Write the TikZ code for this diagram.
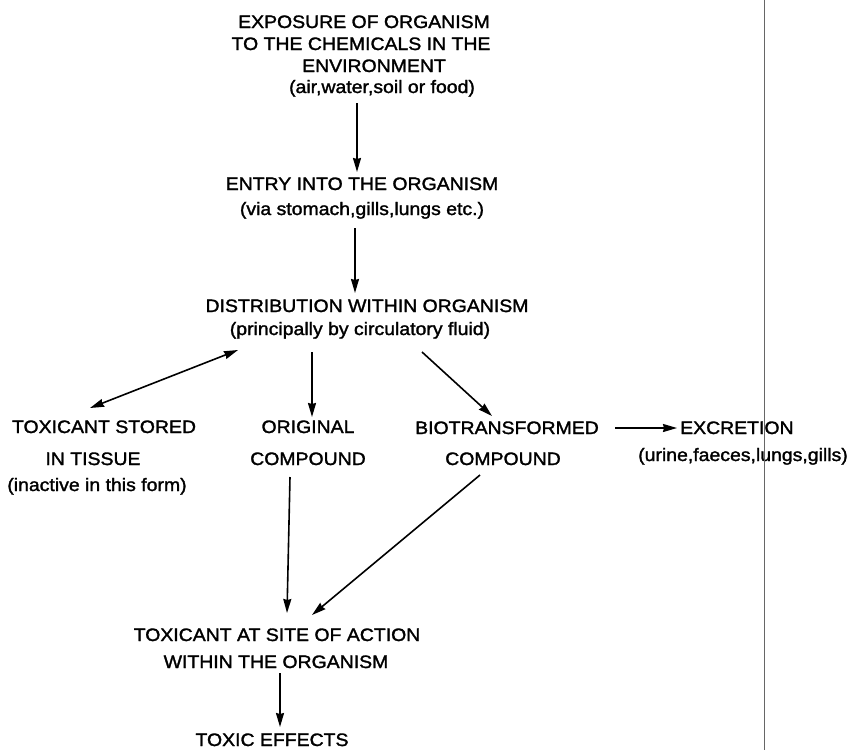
\documentclass[tikz,border=0pt]{standalone}
\usepackage{fontspec}
\setmainfont{Liberation Sans}[FakeStretch=1.08,FakeBold=1.6]
\usetikzlibrary{arrows.meta}
\tikzset{
  txt/.style={anchor=base, inner sep=0pt, font=\fontsize{18}{20}\selectfont},
  arr/.style={line width=1.6pt, -{Stealth[length=14pt,width=8pt,inset=1pt]}},
  darr/.style={line width=1.6pt, {Stealth[length=14pt,width=8pt,inset=1pt]}-{Stealth[length=14pt,width=8pt,inset=1pt]}},
  scanline/.style={draw=black!60, line width=0.8pt}
}
\begin{document}
\begin{tikzpicture}[x=1pt,y=-1pt]
\useasboundingbox (0,0) rectangle (851,750);
% top block
\node[txt] (e1) at (364,28) {EXPOSURE OF ORGANISM};
\node[txt] (e2) at (361,50) {TO THE CHEMICALS IN THE};
\node[txt] (e3) at (374,72) {ENVIRONMENT};
\node[txt] (e4) at (382,93) {(air,water,soil or food)};
% entry
\node[txt] (n1) at (362,190) {ENTRY INTO THE ORGANISM};
\node[txt] (n2) at (362,215) {(via stomach,gills,lungs etc.)};
% distribution
\node[txt] (d1) at (367,312) {DISTRIBUTION WITHIN ORGANISM};
\node[txt] (d2) at (360,335) {(principally by circulatory fluid)};
% stored
\node[txt] (s1) at (104,433) {TOXICANT STORED};
\node[txt] (s2) at (93,465) {IN TISSUE};
\node[txt] (s3) at (97,491) {(inactive in this form)};
% original
\node[txt] (o1) at (308,433) {ORIGINAL};
\node[txt] (o2) at (308,465) {COMPOUND};
% biotransformed
\node[txt] (b1) at (507,434) {BIOTRANSFORMED};
\node[txt] (b2) at (503,465) {COMPOUND};
% excretion
\node[txt, anchor=base west] (x1) at (680,434) {EXCRETION};
\node[txt] (x2) at (743,461) {(urine,faeces,lungs,gills)};
% site of action
\node[txt] (t1) at (277,641) {TOXICANT AT SITE OF ACTION};
\node[txt] (t2) at (276,668) {WITHIN THE ORGANISM};
\node[txt] (f1) at (272,746) {TOXIC EFFECTS};
% connectors
\draw[arr] ([xshift=-25pt,yshift=-10pt]e4.base) -- ([xshift=-5pt,yshift=18pt]n1.base);
\draw[arr] ([xshift=-7pt,yshift=-13pt]n2.base) -- ([xshift=-12pt,yshift=19pt]d1.base);
\draw[darr] ([xshift=-122pt,yshift=-15pt]d2.base) -- ([xshift=-14pt,yshift=25pt]s1.base);
\draw[arr] ([xshift=-48pt,yshift=-17pt]d2.base) -- ([xshift=4pt,yshift=16pt]o1.base);
\draw[arr] ([xshift=62pt,yshift=-17pt]d2.base) -- ([xshift=-15pt,yshift=18pt]b1.base);
\draw[arr] ([xshift=108pt,yshift=6pt]b1.base) -- ([xshift=-3pt,yshift=6pt]x1.base west);
\draw[arr] ([xshift=-18pt,yshift=-12pt]o2.base) -- ([xshift=10pt,yshift=28pt]t1.base);
\draw[arr] ([xshift=-23pt,yshift=-10pt]b2.base) -- ([xshift=35pt,yshift=26pt]t1.base);
\draw[arr] ([xshift=4pt,yshift=-5pt]t2.base) -- ([xshift=8pt,yshift=19pt]f1.base);
% scan line
\coordinate (lt) at (764,0);
\coordinate (lb) at (764,750);
\draw[scanline] (lt) -- (lb);
\end{tikzpicture}
\end{document}
